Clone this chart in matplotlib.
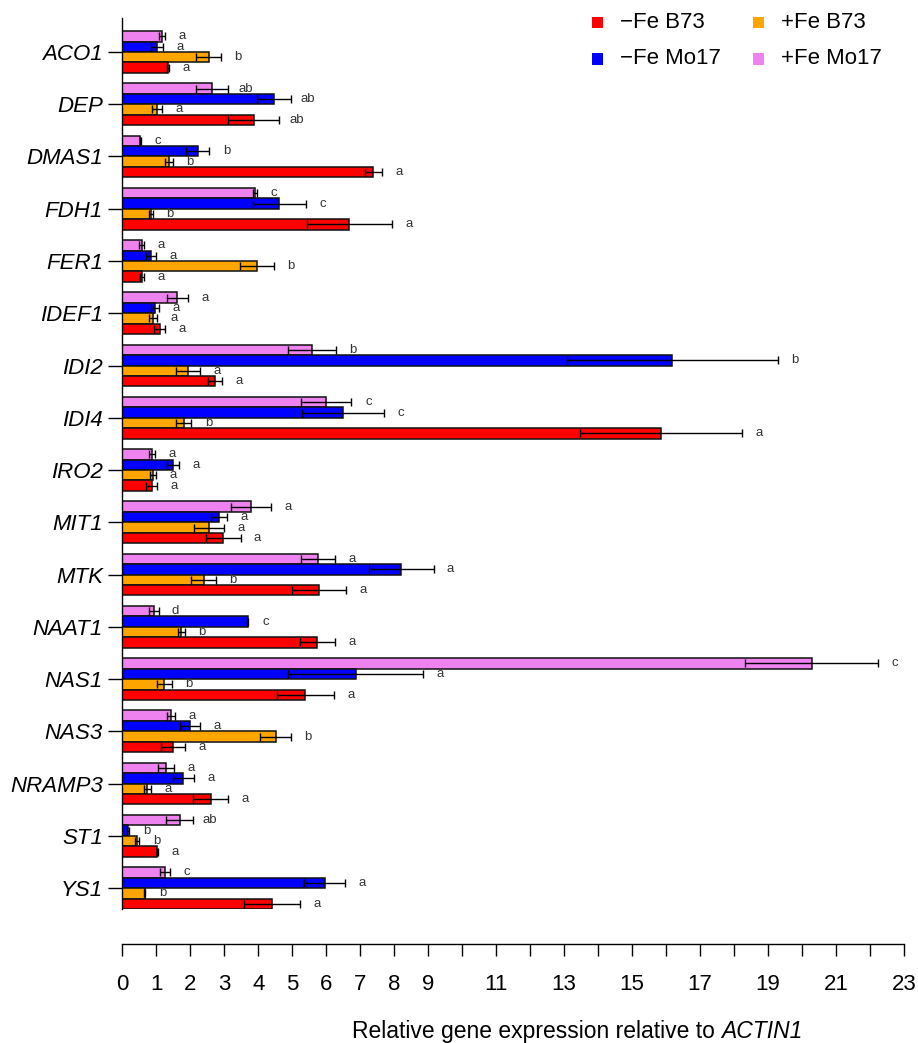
import matplotlib
matplotlib.use("Agg")
import matplotlib.pyplot as plt
from matplotlib.patches import Rectangle
import numpy as np

plt.rcParams['font.family'] = ['Liberation Sans', 'DejaVu Sans']

genes = ["ACO1", "DEP", "DMAS1", "FDH1", "FER1", "IDEF1", "IDI2", "IDI4", "IRO2",
         "MIT1", "MTK", "NAAT1", "NAS1", "NAS3", "NRAMP3", "ST1", "YS1"]

series_names = ["+Fe Mo17", "\u2212Fe Mo17", "+Fe B73", "\u2212Fe B73"]
series_colors = ["#EE82EE", "#0000FF", "#FFA500", "#FF0000"]

# values per gene (top to bottom)
plus_mo17 = [1.18, 2.65, 0.53, 3.90, 0.57, 1.62, 5.59, 6.00, 0.88, 3.79, 5.76, 0.93, 20.28, 1.44, 1.29, 1.69, 1.26]
minus_mo17 = [1.03, 4.46, 2.22, 4.62, 0.85, 0.96, 16.18, 6.50, 1.50, 2.85, 8.21, 3.69, 6.87, 2.00, 1.79, 0.18, 5.95]
plus_b73 = [2.54, 1.02, 1.38, 0.85, 3.96, 0.91, 1.93, 1.81, 0.90, 2.55, 2.39, 1.74, 1.23, 4.51, 0.74, 0.43, 0.66]
minus_b73 = [1.35, 3.87, 7.39, 6.68, 0.57, 1.10, 2.72, 15.85, 0.87, 2.97, 5.79, 5.74, 5.39, 1.50, 2.60, 1.03, 4.41]

plus_mo17_err = [0.09, 0.47, 0.02, 0.05, 0.08, 0.31, 0.70, 0.74, 0.08, 0.58, 0.50, 0.14, 1.95, 0.12, 0.23, 0.39, 0.15]
minus_mo17_err = [0.18, 0.49, 0.34, 0.78, 0.14, 0.11, 3.10, 1.20, 0.18, 0.24, 0.95, 0.02, 1.98, 0.29, 0.31, 0.03, 0.60]
plus_b73_err = [0.36, 0.14, 0.12, 0.06, 0.51, 0.11, 0.36, 0.22, 0.09, 0.45, 0.36, 0.10, 0.22, 0.46, 0.10, 0.07, 0.02]
minus_b73_err = [0.03, 0.75, 0.26, 1.26, 0.06, 0.17, 0.21, 2.38, 0.16, 0.51, 0.80, 0.52, 0.83, 0.35, 0.51, 0.02, 0.83]

plus_mo17_sig = ["a", "ab", "c", "c", "a", "a", "b", "c", "a", "a", "a", "d", "c", "a", "a", "ab", "c"]
minus_mo17_sig = ["a", "ab", "b", "c", "a", "a", "b", "c", "a", "a", "a", "c", "a", "a", "a", "b", "a"]
plus_b73_sig = ["b", "a", "b", "b", "b", "a", "a", "b", "a", "a", "b", "b", "b", "b", "a", "b", "b"]
minus_b73_sig = ["a", "ab", "a", "a", "a", "a", "a", "a", "a", "a", "a", "a", "a", "a", "a", "a", "a"]

xticks = list(range(0, 24))
xticklabels = [str(t) if (t <= 9 or t % 2 == 1) else "" for t in xticks]

W, H = 918, 1043
fig = plt.figure(figsize=(W / 100, H / 100), dpi=100)
ax = fig.add_axes([122.3 / W, 1 - 909 / H, 781.7 / W, 891 / H])

vals = [plus_mo17, minus_mo17, plus_b73, minus_b73]
errs = [plus_mo17_err, minus_mo17_err, plus_b73_err, minus_b73_err]
sigs = [plus_mo17_sig, minus_mo17_sig, plus_b73_sig, minus_b73_sig]
offsets = [-0.3, -0.1, 0.1, 0.3]
ypos = np.arange(len(genes))

for v, e, s, off, c in zip(vals, errs, sigs, offsets, series_colors):
    ax.barh(ypos + off, v, height=0.2, color=c, edgecolor="#111111", linewidth=1.1,
            xerr=e, error_kw=dict(ecolor="black", elinewidth=1.0, capsize=2.6, capthick=1.0),
            zorder=2)
    for yi, vi, ei, si in zip(ypos, v, e, s):
        ax.text(vi + ei + 0.5, yi + off, si, ha="center", va="center",
                fontsize=9.5, color="#333333", zorder=3)

ax.set_xlim(0, 23)
ax.set_ylim(16.4, -0.65)
ax.set_yticks(ypos)
ax.set_yticklabels(genes, style="italic")
ax.set_xticks(xticks)
ax.set_xticklabels(xticklabels)

ax.spines["top"].set_visible(False)
ax.spines["right"].set_visible(False)
ax.spines["bottom"].set_position(("outward", 25.2))
ax.spines["bottom"].set_linewidth(1.0)
ax.spines["left"].set_linewidth(1.0)
ax.tick_params(axis="y", length=10, width=1.0, pad=4, labelsize=16)
ax.tick_params(axis="x", length=8.6, width=1.0, pad=13, labelsize=16)

# x-axis title: normal part + italic gene name
t1 = fig.text(352 / W, 1 - 1038 / H, "Relative gene expression relative to ",
              ha="left", va="baseline", fontsize=16.5)
fig.canvas.draw()
bb = t1.get_window_extent(renderer=fig.canvas.get_renderer())
fig.text(bb.x1 / W, 1 - 1038 / H, "ACTIN1", ha="left", va="baseline",
         fontsize=16.5, style="italic")

# legend
leg_items = [(0, 0, 3), (0, 1, 1), (1, 0, 2), (1, 1, 0)]
col_x = [592, 753]
row_y = [22.7, 59]
for col, row, idx in leg_items:
    sx = col_x[col]
    sy = row_y[row]
    fig.add_artist(Rectangle((sx / W, 1 - (sy + 5.5) / H), 11 / W, 11 / H,
                             transform=fig.transFigure, color=series_colors[idx], lw=0))
    fig.text((sx + 28) / W, 1 - sy / H, series_names[idx], ha="left", va="center", fontsize=16)

fig.savefig("out.png", dpi=100)
